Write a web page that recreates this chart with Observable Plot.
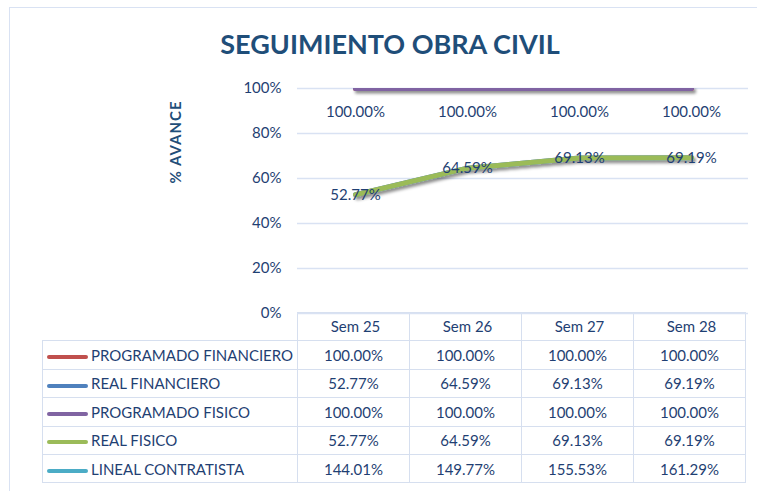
<!DOCTYPE html>
<html><head><meta charset="utf-8">
<script src="https://cdn.jsdelivr.net/npm/d3@7"></script>
<script src="https://cdn.jsdelivr.net/npm/@observablehq/plot@0.6"></script>
<style>
html,body{margin:0;padding:0;background:#fff;overflow:hidden;}
#wrap{position:relative;width:757px;height:491px;overflow:hidden;font-family:Lato,"Liberation Sans",sans-serif;}
#frame{position:absolute;left:9px;top:7px;width:800px;height:600px;border:1px solid #D9E2F3;}
#title{position:absolute;left:0;top:30px;width:780px;text-align:center;font-weight:bold;font-size:27px;line-height:28px;color:#1F4E79;}
#ylab{position:absolute;left:175px;top:142px;transform:translate(-50%,-50%) rotate(-90deg);font-weight:bold;font-size:15px;letter-spacing:1px;color:#1F4E79;white-space:nowrap;}
#wrap svg{position:absolute;left:0;top:0;}
table{position:absolute;border-collapse:collapse;table-layout:fixed;font-size:15px;color:#1F3F73;}
td{border:1px solid #D6DFEF;padding:0;height:27.4px;text-align:center;white-space:nowrap;overflow:hidden;}
td.lab{text-align:left;}
.sw{display:inline-block;width:41px;height:4px;border-radius:2px;margin-left:4px;margin-right:3px;vertical-align:middle;}
</style></head>
<body><div id="wrap"><div id="frame"></div><div id="title">SEGUIMIENTO OBRA CIVIL</div><div id="ylab">% AVANCE</div></div>
<script>
const weeks = ["Sem 25", "Sem 26", "Sem 27", "Sem 28"];
const seriesNames = ["PROGRAMADO FINANCIERO", "REAL FINANCIERO", "PROGRAMADO FISICO", "REAL FISICO", "LINEAL CONTRATISTA"];
const seriesColors = ["#C0504D", "#4F81BD", "#8064A2", "#9BBB59", "#4BACC6"];
const programadoFinanciero = [1.0, 1.0, 1.0, 1.0];
const realFinanciero = [0.5277, 0.6459, 0.6913, 0.6919];
const programadoFisico = [1.0, 1.0, 1.0, 1.0];
const realFisico = [0.5277, 0.6459, 0.6913, 0.6919];
const linealContratista = [1.4401, 1.4977, 1.5553, 1.6129];
const yTicks = [0, 0.2, 0.4, 0.6, 0.8, 1.0];

const seriesValues = [programadoFinanciero, realFinanciero, programadoFisico, realFisico, linealContratista];
const rows = seriesValues.flatMap((vals, i) => vals.map((v, j) => ({series: seriesNames[i], week: weeks[j], value: v})));
const pct2 = d3.format(".2%");
const textColor = "#1F3F73";

const plot = Plot.plot({
  width: 757, height: 341,
  marginLeft: 297, marginRight: 9, marginTop: 88, marginBottom: 28,
  style: {fontFamily: "Lato, 'Liberation Sans', sans-serif", fontSize: "15px", color: textColor, background: "transparent", overflow: "visible"},
  x: {type: "band", domain: weeks, padding: 0},
  y: {domain: [0, 1]},
  color: {domain: seriesNames, range: seriesColors},
  marks: [
    Plot.gridY(yTicks, {stroke: "#D9E2F3", strokeOpacity: 1, strokeWidth: 1.3}),
    Plot.axisY(yTicks, {tickFormat: d3.format(".0%"), tickSize: 0, tickPadding: 16, fontSize: 15, label: null}),
    Plot.axisX({tickSize: 0, tickPadding: 8, fontSize: 15, label: null}),
    Plot.line(rows, {x: "week", y: "value", z: "series", stroke: "series", strokeWidth: 5, strokeLinecap: "round", clip: true}),
    Plot.text(rows.filter(d => d.series === "PROGRAMADO FISICO"), {x: "week", y: "value", text: d => pct2(d.value), dy: 24, fontSize: 15, fill: textColor}),
    Plot.text(rows.filter(d => d.series === "REAL FISICO"), {x: "week", y: "value", text: d => pct2(d.value), fontSize: 15, fill: textColor})
  ]
});
const wrap = document.getElementById("wrap");
wrap.appendChild(plot);

// drop shadow for the lines
const svg = d3.select(plot);
const defs = svg.insert("defs", ":first-child");
const f = defs.append("filter").attr("id", "lineShadow").attr("x", "-10%").attr("y", "-50%").attr("width", "130%").attr("height", "300%");
f.append("feDropShadow").attr("dx", 2).attr("dy", 2.5).attr("stdDeviation", 1.4).attr("flood-color", "#000").attr("flood-opacity", 0.45);
svg.selectAll('g[aria-label="line"]').attr("filter", "url(#lineShadow)");

// data table built from the same x scale
const xs = plot.scale("x");
const x0 = xs.range[0], bw = xs.bandwidth;
const tableLeft = 42;
const table = d3.select(wrap).append("table").style("left", tableLeft + "px").style("top", "312px");
const colgroup = table.append("colgroup");
colgroup.append("col").style("width", (x0 - tableLeft) + "px");
weeks.forEach(() => colgroup.append("col").style("width", bw + "px"));
const head = table.append("tr");
head.append("td").style("border-top", "none").style("border-left", "none");
weeks.forEach(() => head.append("td"));
seriesNames.forEach((name, i) => {
  const tr = table.append("tr");
  const lab = tr.append("td").attr("class", "lab");
  lab.append("span").attr("class", "sw").style("background", seriesColors[i]);
  lab.append("span").text(name);
  seriesValues[i].forEach(v => tr.append("td").text(pct2(v)));
});
// keep the svg's axis labels above the table
wrap.appendChild(plot);
</script>
</body></html>
